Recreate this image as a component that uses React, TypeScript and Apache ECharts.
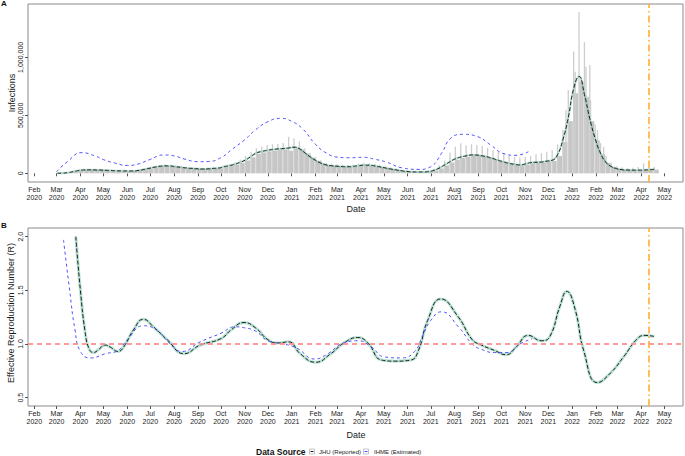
import React, { useEffect, useRef } from "react";
import * as echarts from "echarts";

const DAY = 86400000;
const ts = (s: string) => Date.parse(s + "T00:00:00Z");
const FONT = "'Liberation Sans', Arial, Helvetica, sans-serif";

// ---------- axis ticks ----------
const monthTickDates = [
  "2020-02-01", "2020-03-01", "2020-04-01", "2020-05-01", "2020-06-01", "2020-07-01",
  "2020-08-01", "2020-09-01", "2020-10-01", "2020-11-01", "2020-12-01",
  "2021-01-01", "2021-02-01", "2021-03-01", "2021-04-01", "2021-05-01", "2021-06-01",
  "2021-07-01", "2021-08-01", "2021-09-01", "2021-10-01", "2021-11-01", "2021-12-01",
  "2022-01-01", "2022-02-01", "2022-03-01", "2022-04-01", "2022-05-01",
];
const monthNames = ["Jan", "Feb", "Mar", "Apr", "May", "Jun", "Jul", "Aug", "Sep", "Oct", "Nov", "Dec"];
const infTicks = [0, 500000, 1000000];
const rTicks = [0.5, 1.0, 1.5, 2.0];
const cutoffDate = "2022-04-11";

// ---------- panel A: infections (thousands), weekly from 2020-03-02 ----------
const weekStart = "2020-03-02";
const jhuWeeklyK = [
  1, 2, 6, 15, 24, 29, 30, 29, 28, 26,
  24, 22, 21, 20, 20, 24, 32, 42, 52, 60,
  64, 63, 57, 52, 46, 42, 39, 37, 38, 42,
  45, 57, 66, 78, 95, 115, 145, 175, 188, 198,
  205, 210, 213, 218, 225, 212, 178, 142, 112, 88,
  72, 65, 61, 58, 57, 60, 66, 70, 70, 64,
  55, 46, 37, 29, 22, 16, 13, 12, 12, 15,
  25, 45, 72, 100, 125, 140, 150, 158, 157, 150,
  141, 127, 112, 98, 86, 78, 72, 80, 92, 95,
  97, 105, 112, 160, 290, 480, 730, 835, 680, 470,
  300, 172, 95, 58, 40, 31, 28, 27, 27, 28,
  31, 34,
];
const reportedBaseK = [
  1, 2, 6, 14, 23, 28, 29, 28, 27, 25,
  23, 21, 20, 19, 20, 23, 31, 41, 50, 58,
  62, 61, 55, 50, 44, 40, 37, 35, 36, 40,
  43, 54, 62, 74, 90, 110, 138, 168, 180, 190,
  196, 200, 205, 195, 215, 205, 170, 135, 105, 84,
  68, 62, 58, 55, 54, 57, 62, 66, 66, 60,
  52, 43, 35, 27, 20, 15, 12, 11, 11, 14,
  23, 42, 68, 94, 118, 132, 142, 150, 148, 142,
  133, 120, 106, 92, 81, 74, 68, 75, 86, 90,
  92, 100, 106, 150, 270, 450, 690, 790, 660, 450,
  285, 165, 90, 55, 38, 29, 26, 25, 25, 26,
  29, 32,
];
const reportedPeakK = [
  2, 4, 9, 20, 32, 35, 36, 35, 34, 32,
  30, 28, 27, 26, 27, 30, 40, 52, 65, 72,
  76, 74, 68, 63, 57, 52, 48, 46, 48, 52,
  56, 70, 80, 95, 118, 150, 185, 215, 230, 245,
  250, 255, 262, 315, 302, 275, 215, 175, 140, 112,
  92, 82, 78, 74, 72, 76, 84, 88, 86, 80,
  70, 60, 50, 40, 32, 25, 22, 20, 21, 26,
  40, 70, 110, 180, 230, 259, 240, 250, 245, 235,
  220, 200, 185, 165, 150, 140, 135, 140, 150, 165,
  175, 185, 200, 250, 373, 718, 1050, 1390, 1130, 933,
  420, 260, 150, 90, 60, 52, 48, 48, 55, 86,
  60, 55,
];
const extraSpikeDates = ["2021-12-24", "2022-01-05", "2022-01-13", "2022-01-19", "2022-01-25", "2022-02-03", "2022-02-11"];
const extraSpikeK = [546, 876, 820, 919, 632, 373, 229];

const ihmeInfDates = [
  "2020-03-01", "2020-03-15", "2020-04-03", "2020-04-20", "2020-05-01", "2020-05-15",
  "2020-06-01", "2020-06-15", "2020-07-01", "2020-07-18", "2020-08-01", "2020-08-15",
  "2020-09-01", "2020-09-15", "2020-10-01", "2020-10-15", "2020-11-01", "2020-11-15",
  "2020-12-01", "2020-12-18", "2021-01-01", "2021-01-15", "2021-02-01", "2021-02-15",
  "2021-03-01", "2021-03-17", "2021-04-04", "2021-04-20", "2021-05-05", "2021-05-24",
  "2021-06-16", "2021-07-01", "2021-07-15", "2021-07-27", "2021-08-12", "2021-08-31",
  "2021-09-17", "2021-10-03", "2021-10-20", "2021-11-05",
];
const ihmeInfK = [
  14, 100, 178, 150, 118, 90,
  68, 80, 120, 158, 150, 122,
  100, 102, 135, 205, 290, 375,
  445, 474, 448, 385, 250, 175,
  140, 134, 138, 120, 95, 48,
  34, 57, 172, 302, 336, 316,
  244, 172, 155, 186,
];

// ---------- panel B: effective reproduction number ----------
const jhuRDates = [
  "2020-03-26", "2020-04-01", "2020-04-07", "2020-04-12", "2020-04-18", "2020-04-25",
  "2020-05-03", "2020-05-10", "2020-05-20", "2020-05-28", "2020-06-09", "2020-06-22",
  "2020-07-05", "2020-07-23", "2020-08-14", "2020-09-04", "2020-10-01", "2020-10-14",
  "2020-10-31", "2020-11-15", "2020-12-01", "2020-12-14", "2020-12-28", "2021-01-12",
  "2021-02-01", "2021-02-21", "2021-03-10", "2021-03-28", "2021-04-10", "2021-04-28",
  "2021-05-16", "2021-06-05", "2021-06-15", "2021-06-27", "2021-07-14", "2021-08-06",
  "2021-08-24", "2021-09-05", "2021-09-22", "2021-10-07", "2021-10-20", "2021-11-05",
  "2021-11-22", "2021-12-03", "2021-12-16", "2021-12-25", "2022-01-05", "2022-01-16",
  "2022-02-03", "2022-02-20", "2022-03-09", "2022-03-27", "2022-04-06", "2022-04-18",
];
const jhuRValues = [
  2.0, 1.5, 1.12, 0.96, 0.92, 0.95,
  0.99, 0.97, 0.93, 0.98, 1.13, 1.23,
  1.16, 1.04, 0.91, 0.99, 1.05, 1.13,
  1.2, 1.15, 1.04, 1.01, 1.02, 0.91,
  0.83, 0.91, 1.01, 1.06, 1.01, 0.85,
  0.84, 0.85, 0.94, 1.22, 1.42, 1.25,
  1.04, 0.99, 0.94, 0.9, 0.97, 1.08,
  1.03, 1.07, 1.35, 1.49, 1.32, 0.94,
  0.64, 0.73, 0.88, 1.05, 1.08, 1.07,
];
const ihmeRDates = [
  "2020-03-10", "2020-03-18", "2020-03-25", "2020-04-01", "2020-04-14", "2020-05-04",
  "2020-05-20", "2020-06-01", "2020-06-22", "2020-07-09", "2020-07-27", "2020-08-11",
  "2020-09-04", "2020-10-01", "2020-10-19", "2020-11-01", "2020-11-15", "2020-12-01",
  "2020-12-22", "2021-01-08", "2021-01-31", "2021-02-15", "2021-03-10", "2021-03-28",
  "2021-04-15", "2021-05-01", "2021-05-24", "2021-06-10", "2021-06-20", "2021-07-01",
  "2021-07-15", "2021-08-06", "2021-08-24", "2021-09-05", "2021-09-22", "2021-10-08",
  "2021-10-25", "2021-11-10",
];
const ihmeRValues = [
  1.97, 1.5, 1.13, 0.93, 0.87, 0.91,
  0.94, 1.04, 1.17, 1.13, 1.0, 0.93,
  1.02, 1.1, 1.16, 1.15, 1.12, 1.03,
  1.0, 0.96, 0.86, 0.9, 1.01, 1.03,
  0.97, 0.88, 0.87, 0.93, 1.07, 1.22,
  1.3, 1.16, 1.0, 0.95, 0.92, 0.92,
  1.0, 1.05,
];

function fmtComma(v: number) {
  const s = String(Math.round(v));
  return s.replace(/\B(?=(\d{3})+(?!\d))/g, ",");
}

const ORANGE = "#ffad33";
const BLUE = "#4f4fff";
const BLACK = "#1e1e1e";

function buildOption() {
  const ws = ts(weekStart);
  const monthTs = monthTickDates.map(ts);
  const xMin = ts("2020-02-01") - 8.2 * DAY;
  const xMax = ts("2020-02-01") + 844.3 * DAY;
  const cutoff = ts(cutoffDate);

  const jhuInf = jhuWeeklyK.map((v, i) => [ws + i * 7 * DAY, v * 1000]);
  const baseBars = reportedBaseK.map((v, i) => [ws + (i * 7 + 3) * DAY, v * 1000]);
  const peakBars = reportedPeakK
    .map((v, i) => [ws + i * 7 * DAY, v * 1000])
    .concat(extraSpikeDates.map((d, i) => [ts(d), extraSpikeK[i] * 1000]));
  const ihmeInf = ihmeInfDates.map((d, i) => [ts(d), ihmeInfK[i] * 1000]);
  const jhuR = jhuRDates.map((d, i) => [ts(d), jhuRValues[i]]);
  const ihmeR = ihmeRDates.map((d, i) => [ts(d), ihmeRValues[i]]);

  const xAxisOf = (gridIndex: number, show = true) => ({
    type: "value",
    gridIndex,
    min: xMin,
    max: xMax,
    show,
    axisLine: { show: false },
    axisTick: { show: true, customValues: monthTs, length: 3, lineStyle: { color: "#555", width: 1 } },
    axisLabel: {
      show: true,
      customValues: monthTs,
      formatter: (v: number) => {
        const d = new Date(v);
        return monthNames[d.getUTCMonth()] + "\n" + d.getUTCFullYear();
      },
      fontSize: 7,
      lineHeight: 8,
      color: "#1a1a1a",
      margin: 3,
      fontFamily: FONT,
      hideOverlap: false,
    },
    splitLine: { show: false },
  });

  const yAxisOf = (gridIndex: number, min: number, max: number, ticks: number[], fmt: (v: number) => string) => ({
    type: "value",
    gridIndex,
    min,
    max,
    axisLine: { show: false },
    axisTick: { show: true, customValues: ticks, length: 3, lineStyle: { color: "#555", width: 1 } },
    axisLabel: {
      customValues: ticks,
      rotate: 90,
      formatter: fmt,
      fontSize: 7,
      margin: 4,
      color: "#1a1a1a",
      fontFamily: FONT,
    },
    splitLine: { show: false },
  });

  const cutoffSeries = (xAxisIndex: number, yAxisIndex: number) => ({
    name: "cutoff" + xAxisIndex,
    type: "line",
    xAxisIndex,
    yAxisIndex,
    data: [],
    symbol: "none",
    color: ORANGE,
    lineStyle: { color: ORANGE },
    z: 4,
    markLine: {
      silent: true,
      symbol: ["none", "none"],
      label: { show: false },
      lineStyle: { color: ORANGE, type: [7, 3, 1.5, 3], width: 1.6, opacity: 1 },
      emphasis: { disabled: true },
      data: [{ xAxis: cutoff, lineStyle: { color: ORANGE } }],
    },
  });

  return {
    animation: false,
    backgroundColor: "#ffffff",
    grid: [
      { left: 28, right: 2, top: 4, height: 178, show: true, borderColor: "#8a8a8a", borderWidth: 1, backgroundColor: "transparent" },
      { left: 28, right: 2, top: 228, height: 178, show: true, borderColor: "#8a8a8a", borderWidth: 1, backgroundColor: "transparent" },
    ],
    xAxis: [xAxisOf(0), xAxisOf(0, false), xAxisOf(1)],
    yAxis: [
      yAxisOf(0, -75000, 1460000, infTicks, (v: number) => fmtComma(v)),
      yAxisOf(1, 0.422, 2.081, rTicks, (v: number) => v.toFixed(1)),
    ],
    series: [
      {
        name: "reportedBase",
        type: "bar",
        xAxisIndex: 0,
        yAxisIndex: 0,
        data: baseBars,
        barWidth: 4.4,
        itemStyle: { color: "#c6c6c6" },
        silent: true,
        z: 1,
      },
      {
        name: "reportedPeak",
        type: "bar",
        xAxisIndex: 1,
        yAxisIndex: 0,
        data: peakBars,
        barWidth: 1.3,
        itemStyle: { color: "#cdcdcd" },
        silent: true,
        z: 1,
      },
      {
        name: "jhuRibbonA",
        type: "line",
        xAxisIndex: 0,
        yAxisIndex: 0,
        data: jhuInf,
        smooth: 0.5,
        symbol: "none",
        lineStyle: { color: "rgba(102,194,165,0.4)", width: 2.2 },
        z: 2,
      },
      {
        name: "JHU (Reported)",
        type: "line",
        xAxisIndex: 0,
        yAxisIndex: 0,
        data: jhuInf,
        smooth: 0.5,
        symbol: "none",
        lineStyle: { color: BLACK, width: 1, type: [4, 2] },
        z: 3,
      },
      {
        name: "IHME (Estimated)",
        type: "line",
        xAxisIndex: 0,
        yAxisIndex: 0,
        data: ihmeInf,
        smooth: 0.5,
        symbol: "none",
        lineStyle: { color: BLUE, width: 1, type: [3, 3] },
        z: 3,
      },
      cutoffSeries(0, 0),
      {
        name: "jhuRibbonB",
        type: "line",
        xAxisIndex: 2,
        yAxisIndex: 1,
        data: jhuR,
        smooth: 0.5,
        symbol: "none",
        lineStyle: { color: "rgba(102,194,165,0.45)", width: 3 },
        z: 2,
        markLine: {
          silent: true,
          symbol: "none",
          label: { show: false },
          lineStyle: { color: "#ff8f8f", type: [5, 4], width: 2, opacity: 0.9 },
          emphasis: { disabled: true },
          data: [{ yAxis: 1 }],
        },
      },
      {
        name: "JHU R",
        type: "line",
        xAxisIndex: 2,
        yAxisIndex: 1,
        data: jhuR,
        smooth: 0.5,
        symbol: "none",
        lineStyle: { color: BLACK, width: 1, type: [4, 2] },
        z: 3,
      },
      {
        name: "IHME R",
        type: "line",
        xAxisIndex: 2,
        yAxisIndex: 1,
        data: ihmeR,
        smooth: 0.5,
        symbol: "none",
        lineStyle: { color: BLUE, width: 1, type: [3, 3] },
        z: 3,
      },
      cutoffSeries(2, 1),
    ],
    graphic: [
      { type: "text", x: 1, y: 3, style: { text: "A", fontSize: 8, fontWeight: "bold", fontFamily: FONT, fill: "#111", align: "left", verticalAlign: "middle" } },
      { type: "text", x: 1, y: 225.5, style: { text: "B", fontSize: 8, fontWeight: "bold", fontFamily: FONT, fill: "#111", align: "left", verticalAlign: "middle" } },
      { type: "text", x: 11.5, y: 93, rotation: Math.PI / 2, style: { text: "Infections", fontSize: 9, fontFamily: FONT, fill: "#1a1a1a", align: "center", verticalAlign: "middle" } },
      { type: "text", x: 10.5, y: 313, rotation: Math.PI / 2, style: { text: "Effective Reproduction Number (R)", fontSize: 9, fontFamily: FONT, fill: "#1a1a1a", align: "center", verticalAlign: "middle" } },
      { type: "text", x: 356, y: 209, style: { text: "Date", fontSize: 9, fontFamily: FONT, fill: "#1a1a1a", align: "center", verticalAlign: "middle" } },
      { type: "text", x: 356, y: 435, style: { text: "Date", fontSize: 9, fontFamily: FONT, fill: "#1a1a1a", align: "center", verticalAlign: "middle" } },
      { type: "text", x: 256, y: 451.5, style: { text: "Data Source", fontSize: 8.5, fontWeight: "bold", fontFamily: FONT, fill: "#111", align: "left", verticalAlign: "middle" } },
      { type: "rect", shape: { x: 309.5, y: 449, width: 5, height: 5 }, style: { fill: "#ffffff", stroke: "#b5b5b5", lineWidth: 0.8 } },
      { type: "line", shape: { x1: 310.5, y1: 451.5, x2: 313.5, y2: 451.5 }, style: { stroke: BLACK, lineWidth: 1 } },
      { type: "text", x: 319, y: 451.5, style: { text: "JHU (Reported)", fontSize: 6, fontFamily: FONT, fill: "#222", align: "left", verticalAlign: "middle" } },
      { type: "rect", shape: { x: 363.5, y: 449, width: 5, height: 5 }, style: { fill: "#ffffff", stroke: "#b5b5b5", lineWidth: 0.8 } },
      { type: "line", shape: { x1: 364.5, y1: 451.5, x2: 367.5, y2: 451.5 }, style: { stroke: BLUE, lineWidth: 1 } },
      { type: "text", x: 374, y: 451.5, style: { text: "IHME (Estimated)", fontSize: 6, fontFamily: FONT, fill: "#222", align: "left", verticalAlign: "middle" } },
    ],
  };
}

export default function App() {
  const ref = useRef<HTMLDivElement>(null);
  useEffect(() => {
    if (!ref.current) return;
    const chart = echarts.init(ref.current, undefined, { renderer: "svg" });
    chart.setOption(buildOption() as any);
    return () => chart.dispose();
  }, []);
  return (
    <div
      ref={ref}
      style={{ position: "fixed", left: 0, top: 0, width: 685, height: 456, background: "#fff" }}
    />
  );
}
